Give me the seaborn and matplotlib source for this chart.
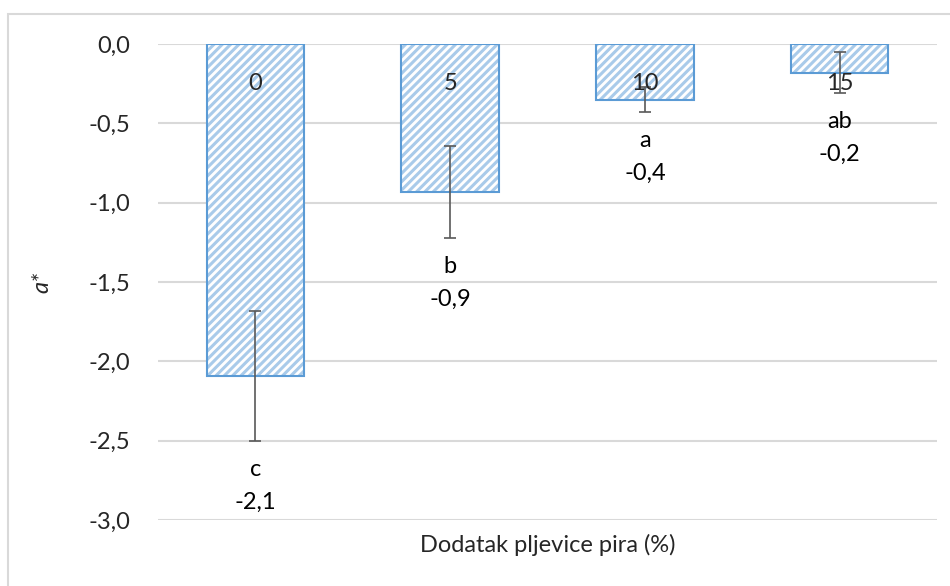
import matplotlib
matplotlib.use("Agg")
import matplotlib.pyplot as plt
from matplotlib.patches import Rectangle
import seaborn as sns
import pandas as pd

# data
categories = ["0", "5", "10", "15"]
a_values = [-2.09, -0.93, -0.35, -0.18]
a_sd = [0.41, 0.29, 0.08, 0.13]
letters = ["c", "b", "a", "ab"]
value_labels = ["-2,1", "-0,9", "-0,4", "-0,2"]
y_ticks = [0.0, -0.5, -1.0, -1.5, -2.0, -2.5, -3.0]

sns.set_style("white")
plt.rcParams["font.family"] = ["Lato", "DejaVu Sans"]
plt.rcParams["hatch.linewidth"] = 2.2

FS = 17

df = pd.DataFrame({"dodatak": categories, "a": a_values})

fig = plt.figure(figsize=(9.5, 5.86), dpi=100)
ax = fig.add_axes([158 / 950, 1 - 520 / 586, 779 / 950, 476 / 586])

sns.barplot(data=df, x="dodatak", y="a", ax=ax, width=0.5,
            color="white", edgecolor="#A9CBEA", linewidth=0, hatch="////",
            errorbar=None, zorder=1)

# outline on top of hatched bars
for p in ax.patches:
    ax.add_patch(Rectangle(p.get_xy(), p.get_width(), p.get_height(),
                           fill=False, edgecolor="#5B9BD5", linewidth=1.5, zorder=1.5))

xs = list(range(len(categories)))
ax.errorbar(xs, a_values, yerr=a_sd, fmt="none", ecolor="#595959",
            elinewidth=1.2, capsize=4.5, capthick=1.2, zorder=2)

for x, v, sd, let, lab in zip(xs, a_values, a_sd, letters, value_labels):
    ax.annotate(f"{let}\n{lab}", xy=(x, v - sd), xytext=(0, -13),
                textcoords="offset points", ha="center", va="top",
                fontsize=FS, linespacing=1.7, color="black")

ax.set_ylim(-3.0, 0.0)
ax.set_xlim(-0.5, 3.5)
ax.set_yticks(y_ticks)
ax.set_yticklabels([f"{t:.1f}".replace(".", ",") for t in y_ticks])
ax.yaxis.grid(True, color="#D9D9D9", linewidth=1.5)
ax.set_axisbelow(True)
ax.xaxis.set_zorder(3)  # category labels sit over the bars
for s in ax.spines.values():
    s.set_visible(False)

ax.tick_params(axis="y", length=0, pad=20, labelsize=FS)
ax.tick_params(axis="x", length=0, bottom=False, top=False,
               labelbottom=False, labeltop=True, pad=-36, labelsize=FS)

ax.set_xlabel("Dodatak pljevice pira (%)", fontsize=FS, labelpad=10)
ax.xaxis.set_label_position("bottom")
ax.set_ylabel("a*", fontsize=FS, fontstyle="italic", labelpad=26)

# light chart border like the original
fig.patches.append(Rectangle((8 / 950, -0.01), 1.0, 1 - 14 / 586 + 0.01,
                             transform=fig.transFigure, fill=False,
                             edgecolor="#D9D9D9", linewidth=1.5))

fig.savefig("out.png", dpi=100)
